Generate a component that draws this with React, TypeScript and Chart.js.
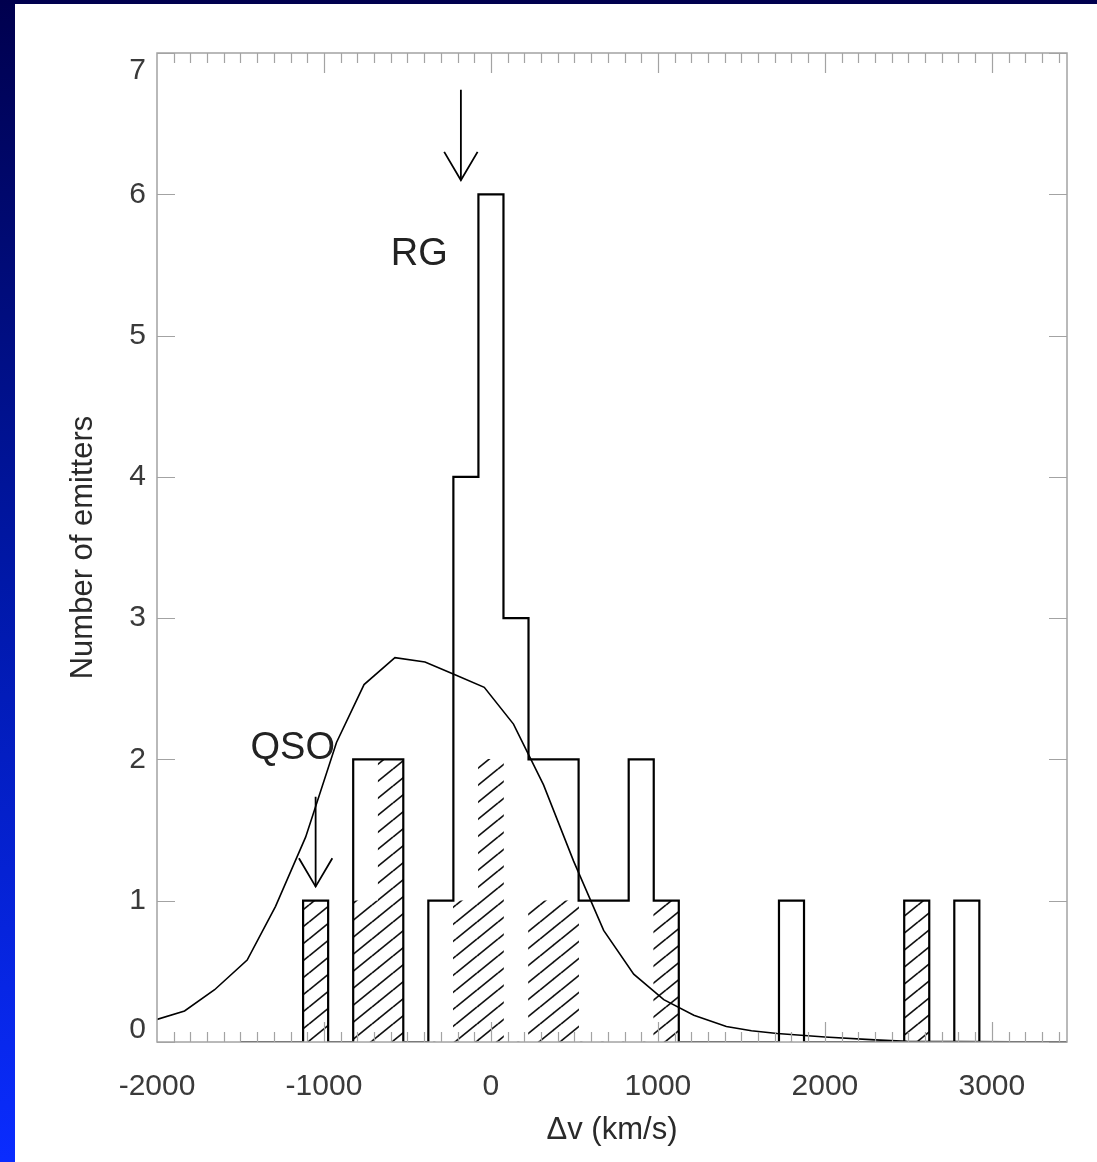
import React, { useEffect, useRef } from "react";
import { Chart, registerables } from "chart.js";

Chart.register(...registerables);

// ---- Data ----
// Histogram bin centres (km/s), bin width 150 km/s
const binCenters = [
  -1500, -1350, -1200, -1050, -900, -750, -600, -450, -300, -150, 0, 150, 300, 450, 600, 750, 900,
  1050, 1200, 1350, 1500, 1650, 1800, 1950, 2100, 2250, 2400, 2550, 2700, 2850, 3000, 3150, 3300, 3450,
];
// All emitters (open histogram)
const allCounts = [
  0, 0, 0, 1, 0, 2, 2, 0, 1, 4, 6, 3, 2, 2, 1, 1, 2,
  1, 0, 0, 0, 0, 1, 0, 0, 0, 0, 1, 0, 1, 0, 0, 0, 0,
];
// Sub-sample (hatched histogram)
const hatchedCounts = [
  0, 0, 0, 1, 0, 1, 2, 0, 0, 1, 2, 0, 1, 1, 0, 0, 0,
  1, 0, 0, 0, 0, 0, 0, 0, 0, 0, 1, 0, 0, 0, 0, 0, 0,
];
// Smooth model curve
const curveV = [
  -2000, -1835, -1655, -1460, -1290, -1110, -925, -760, -575, -395, -215, -40, 135, 315, 495, 675,
  855, 1035, 1215, 1410, 1560, 1715, 2000, 2300, 2490, 3450,
];
const curveN = [
  0.16, 0.22, 0.37, 0.58, 0.96, 1.45, 2.12, 2.53, 2.72, 2.69, 2.6, 2.51, 2.25, 1.82, 1.28, 0.79,
  0.48, 0.3, 0.19, 0.11, 0.08, 0.06, 0.035, 0.015, 0.005, 0,
];

// Axes
const xMin = -2000;
const xMax = 3450;
const yMin = 0;
const yMax = 7;
const xMajorTicks = [-2000, -1000, 0, 1000, 2000, 3000];
const xTickLabels = ["-2000", "-1000", "0", "1000", "2000", "3000"];
const xMinorStep = 100;
const yTicks = [0, 1, 2, 3, 4, 5, 6, 7];
const yTickLabels = ["0", "1", "2", "3", "4", "5", "6", "7"];
const xTitle = "Δv (km/s)";
const yTitle = "Number of emitters";

// Annotation arrows: [x, yTop, yTip, yWing, halfWidth]
const rgArrow = [-180, 6.74, 6.1, 6.3, 100];
const qsoArrow = [-1050, 1.735, 1.1, 1.3, 100];
// Annotation labels: text, x (left), y (baseline)
const annoTexts = ["RG", "QSO"];
const annoX = [-600, -1440];
const annoY = [5.5, 2.0];

const FONT = "'Liberation Sans', Arial, Helvetica, sans-serif";

function makeHatch(): CanvasPattern | string {
  const c = document.createElement("canvas");
  const W = 21;
  const H = 17;
  c.width = W;
  c.height = H;
  const g = c.getContext("2d");
  if (!g) return "rgba(0,0,0,0)";
  g.strokeStyle = "#111";
  g.lineWidth = 1.7;
  for (const k of [-1, 0, 1]) {
    g.beginPath();
    g.moveTo(0, H + k * H);
    g.lineTo(W, k * H);
    g.stroke();
  }
  return g.createPattern(c, "repeat") || "rgba(0,0,0,0)";
}

function arrowDatasets(a: number[]) {
  const [x, top, tip, wing, hw] = a;
  const common = {
    type: "line" as const,
    borderColor: "#000",
    borderWidth: 1.8,
    pointRadius: 0,
    tension: 0,
    fill: false,
  };
  return [
    { ...common, data: [{ x, y: top }, { x, y: tip }] },
    {
      ...common,
      data: [
        { x: x - hw, y: wing },
        { x, y: tip },
        { x: x + hw, y: wing },
      ],
    },
  ];
}

const axesPlugin = {
  id: "idlAxes",
  afterDraw(chart: any) {
    const { ctx, chartArea, scales } = chart;
    const { left, right, top, bottom } = chartArea;
    const xs = scales.x;
    const ys = scales.y;
    ctx.save();
    // frame
    ctx.strokeStyle = "#a3a3a3";
    ctx.lineWidth = 1.5;
    ctx.strokeRect(left, top, right - left, bottom - top);
    // x ticks (top and bottom)
    ctx.lineWidth = 1.2;
    for (let v = xMin + xMinorStep; v < xMax; v += xMinorStep) {
      const px = Math.round(xs.getPixelForValue(v)) + 0.5;
      const major = xMajorTicks.includes(v);
      const len = major ? 20 : 10;
      ctx.beginPath();
      ctx.moveTo(px, bottom);
      ctx.lineTo(px, bottom - len);
      ctx.moveTo(px, top);
      ctx.lineTo(px, top + len);
      ctx.stroke();
    }
    // y ticks (left and right)
    for (const v of yTicks) {
      const py = Math.round(ys.getPixelForValue(v)) + 0.5;
      ctx.beginPath();
      ctx.moveTo(left, py);
      ctx.lineTo(left + 18, py);
      ctx.moveTo(right, py);
      ctx.lineTo(right - 18, py);
      ctx.stroke();
    }
    // tick labels
    ctx.fillStyle = "#3a3a3a";
    ctx.font = `30px ${FONT}`;
    ctx.textAlign = "center";
    ctx.textBaseline = "middle";
    xMajorTicks.forEach((v, i) => {
      ctx.fillText(xTickLabels[i], xs.getPixelForValue(v), bottom + 45);
    });
    ctx.textAlign = "right";
    yTicks.forEach((v, i) => {
      const py = ys.getPixelForValue(v);
      if (v === yMin) ctx.textBaseline = "bottom";
      else if (v === yMax) ctx.textBaseline = "top";
      else ctx.textBaseline = "middle";
      ctx.fillText(yTickLabels[i], left - 11, v === yMin ? py + 3 : v === yMax ? py + 3 : py);
    });
    // axis titles
    ctx.fillStyle = "#2a2a2a";
    ctx.font = `31px ${FONT}`;
    ctx.textAlign = "center";
    ctx.textBaseline = "middle";
    ctx.fillText(xTitle, (left + right) / 2, bottom + 88);
    ctx.save();
    ctx.translate(left - 74, (top + bottom) / 2);
    ctx.rotate(-Math.PI / 2);
    ctx.fillText(yTitle, 0, 0);
    ctx.restore();
    // annotation labels
    ctx.fillStyle = "#222";
    ctx.font = `38px ${FONT}`;
    ctx.textAlign = "left";
    ctx.textBaseline = "alphabetic";
    annoTexts.forEach((t, i) => {
      ctx.fillText(t, xs.getPixelForValue(annoX[i]), ys.getPixelForValue(annoY[i]));
    });
    ctx.restore();
  },
};

export default function App() {
  const ref = useRef<HTMLCanvasElement | null>(null);

  useEffect(() => {
    const canvas = ref.current;
    if (!canvas) return;
    const hatch = makeHatch();
    const chart = new Chart(canvas, {
      type: "line",
      data: {
        datasets: [
          {
            type: "line",
            data: curveV.map((v, i) => ({ x: v, y: curveN[i] })),
            borderColor: "#000",
            borderWidth: 1.6,
            pointRadius: 0,
            tension: 0,
            fill: false,
            order: 0,
          },
          {
            type: "line",
            data: binCenters.map((v, i) => ({ x: v, y: allCounts[i] })),
            stepped: "middle",
            borderColor: "#000",
            borderWidth: 2.2,
            pointRadius: 0,
            fill: false,
            order: 1,
          },
          {
            type: "bar",
            data: binCenters.map((v, i) => ({ x: v, y: hatchedCounts[i] })),
            backgroundColor: hatch as any,
            borderWidth: 0,
            barPercentage: 1,
            categoryPercentage: 1,
            order: 2,
          },
          ...arrowDatasets(rgArrow),
          ...arrowDatasets(qsoArrow),
        ] as any,
      },
      options: {
        responsive: false,
        animation: false,
        devicePixelRatio: 1,
        layout: { padding: { left: 142, top: 49, right: 30, bottom: 120 } },
        elements: { point: { radius: 0 } },
        scales: {
          x: { type: "linear", min: xMin, max: xMax, display: false, offset: false },
          y: { type: "linear", min: yMin, max: yMax, display: false },
        },
        plugins: { legend: { display: false }, tooltip: { enabled: false } },
      },
      plugins: [axesPlugin],
    });
    return () => chart.destroy();
  }, []);

  return (
    <div
      style={{
        position: "fixed",
        left: 0,
        top: 0,
        width: 1097,
        height: 1162,
        background: "linear-gradient(to bottom, #00004e 0%, #0018a8 50%, #0a2cff 100%)",
        overflow: "hidden",
      }}
    >
      <canvas
        ref={ref}
        width={1082}
        height={1158}
        style={{ position: "absolute", left: 15, top: 4, width: 1082, height: 1158, background: "#fff" }}
      />
    </div>
  );
}
